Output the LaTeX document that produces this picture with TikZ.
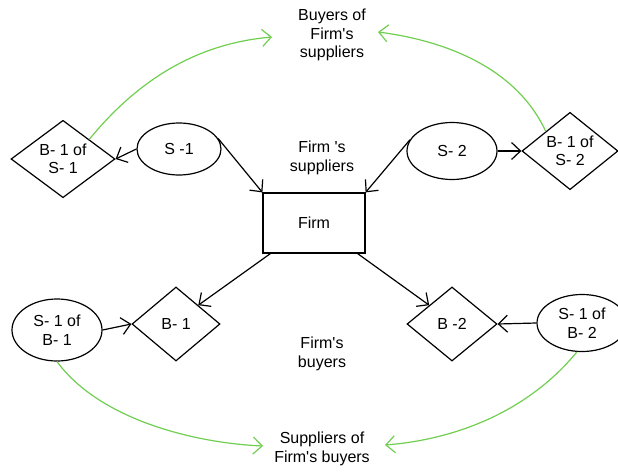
\documentclass[tikz,border=0pt]{standalone}
\usepackage{fontspec}
\setmainfont{Liberation Sans}[Ligatures=TeXOff]
\usetikzlibrary{shapes.geometric,arrows.meta}
\definecolor{lgreen}{RGB}{112,206,80}
\tikzset{
  every node/.style={font=\fontsize{16}{18.5}\selectfont, align=center},
  box/.style={draw, line width=1.2pt, minimum width=102pt, minimum height=60pt, inner sep=0pt},
  oval/.style={draw, ellipse, line width=1.2pt, inner sep=0pt},
  dia/.style={draw, diamond, aspect=1, line width=1.2pt, inner sep=0pt},
  arr/.style={line width=1.2pt, -{Straight Barb[length=9pt,width=17pt,line width=1.2pt]}},
  garr/.style={lgreen, line width=1.2pt, -{Straight Barb[length=9pt,width=17pt,line width=1.2pt]}},
}
\begin{document}
\begin{tikzpicture}[x=1pt,y=-1pt]
\useasboundingbox (0,0) rectangle (618,471);
\node[box] (firm) at (314,223) {Firm};
\node[oval, minimum width=84pt, minimum height=52pt] (s1) at (179,149) {S -1};
\node[dia, minimum width=104pt, minimum height=74pt] (bs1) at (63,159) {B- 1 of\\S- 1};
\node[oval, minimum width=90pt, minimum height=57pt] (s2) at (452,151) {S- 2};
\node[dia, minimum width=96pt, minimum height=74pt] (bs2) at (570,151) {B- 1 of\\S- 2};
\node[oval, minimum width=90pt, minimum height=62pt] (sb1) at (57,330) {S- 1 of\\B- 1};
\node[dia, minimum width=88pt, minimum height=74pt] (b1) at (176,324) {B- 1};
\node[dia, minimum width=90pt, minimum height=74pt] (b2) at (452,324) {B -2};
\node[oval, minimum width=90pt, minimum height=57pt] (sb2) at (582,323) {S- 1 of\\B- 2};

\node (top) at (332,35) {Buyers of\\Firm's\\suppliers};
\node (fsup) at (322,158) {Firm 's\\suppliers};
\node (fbuy) at (322,354) {Firm's\\buyers};
\node (bot) at (322,449) {Suppliers of\\Firm's buyers};

\coordinate (t1) at (272,37);
\coordinate (t2) at (378,32);
\coordinate (t3) at (263,446);
\coordinate (t4) at (385,445);

\draw[arr] (s1.west) -- (bs1.east);
\draw[arr] (s2.east) -- (bs2.west);
\draw[arr] (sb1.east) -- (b1.west);
\draw[arr] (sb2.west) -- (b2.east);
\draw[arr] (s1.15) -- (firm.north west);
\draw[arr] (s2.165) -- (firm.north east);
\draw[arr] ([xshift=8pt]firm.south west) -- (b1.north east);
\draw[arr] ([xshift=-8pt]firm.south east) -- (b2.north west);

\draw[garr] (bs1.north east) .. controls (150,65) and (215,42) .. (t1);
\draw[garr] (bs2.north west) .. controls (515,65) and (440,40) .. (t2);
\draw[garr] (sb1.south) .. controls (100,420) and (195,443) .. (t3);
\draw[garr] (sb2.260) .. controls (525,415) and (450,440) .. (t4);
\end{tikzpicture}
\end{document}
